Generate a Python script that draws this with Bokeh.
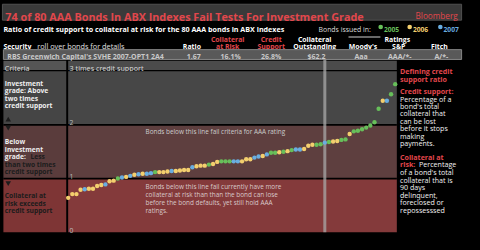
import numpy as np
from bokeh.plotting import figure
from bokeh.models import Range1d, ColumnDataSource, GlobalInlineStyleSheet
from bokeh.core.properties import value
from bokeh.embed import file_html
from bokeh.resources import INLINE

# ---------------- data ----------------
years = ["2005", "2006", "2007"]
year_colors = ["#67bf5a", "#f3cf6e", "#69ade0"]

bond_year = [
    "2006", "2006", "2006", "2006", "2007", "2006", "2006", "2006", "2006", "2007",
    "2006", "2006", "2005", "2007", "2006", "2007", "2006", "2007", "2006", "2007",
    "2007", "2005", "2006", "2006", "2006", "2007", "2006", "2006", "2006", "2006",
    "2007", "2006", "2006", "2006", "2005", "2006", "2006", "2005", "2005", "2005",
    "2007", "2007", "2006", "2006", "2006", "2007", "2007", "2006", "2007", "2005",
    "2005", "2006", "2005", "2006", "2005", "2007", "2007", "2006", "2006", "2006",
    "2005", "2005", "2007", "2005", "2006", "2006", "2005", "2005", "2006", "2005",
    "2005", "2005", "2005", "2005", "2005", "2005", "2006", "2007", "2005", "2005",
]
bond_ratio = [
    0.64, 0.71, 0.71, 0.79, 0.80, 0.81, 0.81, 0.86, 0.88, 0.89,
    0.95, 0.96, 1.00, 1.02, 1.03, 1.05, 1.07, 1.08, 1.09, 1.09,
    1.10, 1.12, 1.12, 1.12, 1.13, 1.14, 1.14, 1.15, 1.16, 1.16,
    1.21, 1.23, 1.24, 1.24, 1.26, 1.27, 1.31, 1.32, 1.32, 1.32,
    1.32, 1.32, 1.32, 1.36, 1.36, 1.39, 1.41, 1.42, 1.45, 1.48,
    1.48, 1.49, 1.50, 1.51, 1.53, 1.54, 1.54, 1.55, 1.61, 1.63,
    1.63, 1.64, 1.67, 1.68, 1.69, 1.70, 1.72, 1.73, 1.83, 1.88,
    1.89, 1.92, 1.95, 1.99, 2.05, 2.30, 2.45, 2.45, 2.57, 2.76,
]
selected_index = 62
selected_row = ["RBS Greenwich Capital's SVHE 2007-OPT1 2A4", "1.67", "16.1%", "26.8%",
                "$62.2", "Aaa", "AAA/*-", "A/*-"]
band_edges = [0, 1, 2, 3]
band_colors = ["#843a3b", "#5e3f3f", "#474747"]
cell_colors = ["#7e3535", "#5a3c3c", "#454545"]
tick_labels = ["0", "1", "2"]

# ---------------- figure ----------------
RED = "#e2474c"
FONT = "Open Sans"

p = figure(width=464, height=234, x_range=Range1d(0, 480), y_range=Range1d(250, 0),
           output_backend="svg", toolbar_location=None, min_border=0)
p.axis.visible = False
p.grid.visible = False
p.outline_line_color = None
p.background_fill_color = "#000000"
p.border_fill_color = "#000000"
p.stylesheets = [GlobalInlineStyleSheet(css="html, body { background: #000000; }")]

# index scale: bond 0 at x=70, bond 79 at x=408.3 (page coords)
px_per_bond = (408.3 - 70.0) / 79
p.extra_x_ranges = {"idx": Range1d(-70.0 / px_per_bond, 79 + (480 - 408.3) / px_per_bond)}
# ratio scale: 0 at y=247.5, 57.3 px per unit
p.extra_y_ranges = {"ratio": Range1d((247.5 - 250) / 57.3, 247.5 / 57.3)}


def txt(x, y, s, color="#e8e8e8", size=6.8, bold=False, align="left", **kw):
    p.text(x=[x], y=[y], text=[s], text_color=color, text_font=value(FONT),
           text_font_size=value(f"{size}px"), text_font_style="bold" if bold else "normal",
           text_align=align, text_baseline="alphabetic", **kw)


# title bar
p.quad(left=2, right=477, top=4, bottom=21, fill_color="#3a3a3a", line_color="#505050", line_width=1)
txt(5, 17.3, "74 of 80 AAA Bonds In ABX Indexes Fail Tests For Investment Grade", RED, 10.8, True)
txt(473, 16.5, "Bloomberg", RED, 8.2, False, "right")

# subtitle + legend
txt(3, 30.7, "Ratio of credit support to collateral at risk for the 80 AAA bonds in ABX indexes",
    "#ffffff", 7.15, True)
txt(329, 30.7, "Bonds issued in:", "#dddddd", 6.9)
leg_x = [393.3, 423.3, 455.0]
p.scatter(x=leg_x, y=[28.3] * 3, size=4.6, fill_color=year_colors, line_color=None)
for lx, yr, c in zip(leg_x, years, year_colors):
    txt(lx + 3.3, 30.7, yr, c, 6.7, True)

# table header
txt(3, 49, "Security", "#ffffff", 6.9, True)
txt(38, 49, "roll over bonds for details", "#e0e0e0", 7.3)
txt(198, 49, "Ratio", "#ffffff", 6.9, True, "center")
txt(235, 41.6, "Collateral", RED, 6.9, True, "center")
txt(235, 49, "at Risk", RED, 6.9, True, "center")
txt(280, 41.6, "Credit", RED, 6.9, True, "center")
txt(280, 49, "Support", RED, 6.9, True, "center")
txt(325, 41.6, "Collateral", "#ffffff", 6.9, True, "center")
txt(325, 49, "Outstanding", "#ffffff", 6.9, True, "center")
txt(410.5, 41.3, "Ratings", "#ffffff", 6.9, True, "center")
p.segment(x0=[360, 428], x1=[393, 463], y0=[39], y1=[39], line_color="#d0d0d0", line_width=1)
txt(375, 49.3, "Moody's", "#ffffff", 6.9, True, "center")
txt(412, 49.3, "S&P", "#ffffff", 6.9, True, "center")
txt(454, 49.3, "Fitch", "#ffffff", 6.9, True, "center")

# selected bond row
p.quad(left=3, right=477, top=52.5, bottom=63, fill_color="#595959", line_color="#858585", line_width=1)
row_x = [7, 200, 238, 280, 327, 373, 413, 456]
for i, (rx, s) in enumerate(zip(row_x, selected_row)):
    txt(rx, 59.6, s, "#c9c9c9", 7.0, True, "left" if i == 0 else "center")

# criteria header row
p.quad(left=3, right=68, top=64.5, bottom=74.3, fill_color="#555555", line_color=None)
p.quad(left=70, right=410, top=64.5, bottom=74.3, fill_color="#4b4b4b", line_color=None)
txt(4.5, 72.3, "Criteria", "#dddddd", 7.2)
txt(71.5, 72.3, "3 times credit support", "#dddddd", 7.2)

# bands
bands = ColumnDataSource(dict(bottom=band_edges[:-1], top=band_edges[1:],
                              color=band_colors, cell=cell_colors))
p.quad(left=70, right=410, bottom="bottom", top="top", fill_color="color", line_color=None,
       source=bands, y_range_name="ratio")
p.quad(left=3, right=68, bottom="bottom", top="top", fill_color="cell", line_color=None,
       source=bands, y_range_name="ratio")
p.segment(x0=3, x1=410, y0=band_edges[1:3], y1=band_edges[1:3], line_color="#000000",
          line_width=1.8, y_range_name="ratio")

# tick labels inside bands
p.text(x=71.5, y=band_edges[:3], text=tick_labels, y_range_name="ratio", y_offset=-2,
       text_color="#bdbdbd", text_font=value(FONT), text_font_size=value("6.8px"),
       text_baseline="alphabetic")

# left criteria texts
WH = "#eeeeee"
DK = "#1c1c1c"
LS = 6.7
for k, s in enumerate(["Investment", "grade: Above", "two times", "credit support"]):
    txt(4.5, 88.2 + 8.15 * k, s, WH, LS, True)
p.scatter(x=[8, 8, 8], y=[127.6, 135.6, 194.8], marker=["triangle", "inverted_triangle", "inverted_triangle"],
          size=5.5, fill_color="#1c1c1c", line_color=None)
txt(4.5, 150.6, "Below", WH, LS, True)
txt(4.5, 158.7, "investment", WH, LS, True)
txt(4.5, 166.8, "grade:", WH, LS, True)
txt(31.0, 166.8, "Less", DK, LS, True)
txt(4.5, 174.9, "than two times", DK, LS, True)
txt(4.5, 183.0, "credit support", DK, LS, True)
for k, s in enumerate(["Collateral at", "risk exceeds", "credit support"]):
    txt(4.5, 208.4 + 8.15 * k, s, DK, LS, True)

# annotations in plot
txt(150, 139.6, "Bonds below this line fail criteria for AAA rating", "#cccccc", 6.4)
for k, s in enumerate(["Bonds below this line fail currently have more",
                       "collateral at risk than than the bond can lose",
                       "before the bond defaults, yet still hold AAA",
                       "ratings."]):
    txt(150, 199.2 + 8.4 * k, s, "#d8c9c9", 6.4)

# selected bond marker line
p.segment(x0=[selected_index], x1=[selected_index], y0=[63], y1=[247.5], x_range_name="idx",
          line_color="#a8a8a8", line_alpha=0.75, line_width=3)

# data points
color_map = dict(zip(years, year_colors))
src = ColumnDataSource(dict(i=np.arange(len(bond_ratio)), ratio=bond_ratio,
                            color=[color_map[y] for y in bond_year]))
p.scatter(x="i", y="ratio", source=src, x_range_name="idx", y_range_name="ratio",
          size=4.4, fill_color="color", line_color=None)

# right column notes
RX = 413.3
RS = 7.1
txt(RX, 75.5, "Defining credit", RED, RS, True)
txt(RX, 83.8, "support ratio", RED, RS, True)
txt(RX, 96.5, "Credit support:", RED, RS, True)
for k, s in enumerate(["Percentage of a", "bond's total", "collateral that", "can be lost",
                       "before it stops", "making", "payments."]):
    txt(RX, 105 + 7.85 * k, s, "#f2f2f2", RS)
txt(RX, 167, "Collateral at", RED, RS, True)
txt(RX, 175.2, "risk:", RED, RS, True)
txt(433.0, 175.2, "Percentage", "#f2f2f2", RS)
for k, s in enumerate(["of a bond's total", "collateral that is", "90 days", "delinquent,",
                       "foreclosed or", "repossesssed"]):
    txt(RX, 183.3 + 8.0 * k, s, "#f2f2f2", RS)

open("out.html", "w").write(file_html(p, INLINE))
